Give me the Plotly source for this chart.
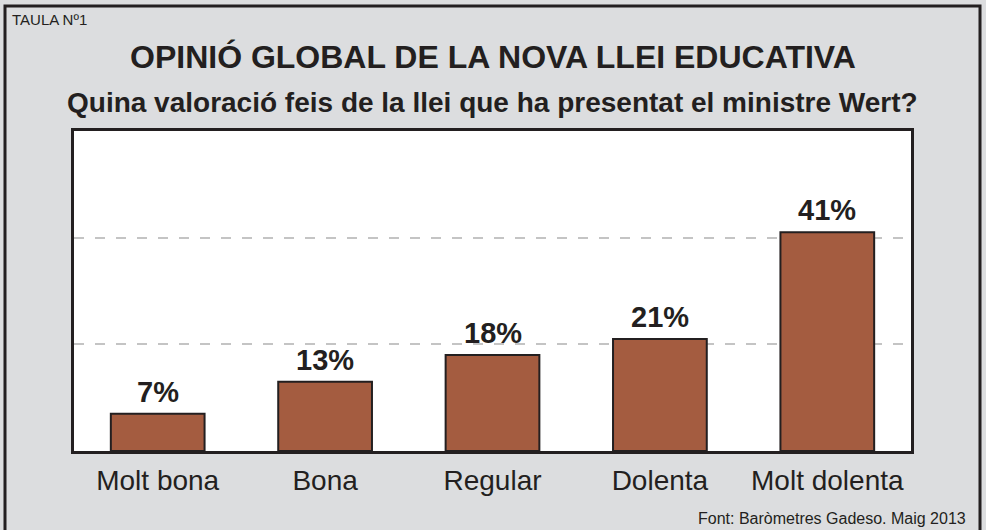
import plotly.graph_objects as go

categories = ["Molt bona", "Bona", "Regular", "Dolenta", "Molt dolenta"]
values = [7, 13, 18, 21, 41]
value_labels = ["7%", "13%", "18%", "21%", "41%"]

title = "OPINIÓ GLOBAL DE LA NOVA LLEI EDUCATIVA"
subtitle = "Quina valoració feis de la llei que ha presentat el ministre Wert?"
table_label = "TAULA Nº1"
source = "Font: Baròmetres Gadeso. Maig 2013"

FONT = "Liberation Sans, Arial, sans-serif"
DARK = "#231f20"
BG = "#dcdddf"
BAR = "#a45c40"

W, H = 986, 530
L, R, T, B = 74, 75, 131, 79
PW, PH = W - L - R, H - T - B


def px_x(x):
    return (x - L) / PW


def px_y(y):
    return (H - B - y) / PH


fig = go.Figure()
fig.add_trace(go.Bar(
    x=categories, y=values,
    marker=dict(color=BAR, line=dict(color=DARK, width=2)),
    width=0.56, hoverinfo="skip",
))

for c, v, t in zip(categories, values, value_labels):
    fig.add_annotation(x=c, y=v, text=f"<b>{t}</b>", showarrow=False,
                       yanchor="bottom", yshift=4,
                       font=dict(family=FONT, size=29, color=DARK))

fig.update_layout(
    width=W, height=H,
    margin=dict(l=L, r=R, t=T, b=B),
    paper_bgcolor=BG, plot_bgcolor="white",
    showlegend=False,
    font=dict(family=FONT, color=DARK),
    xaxis=dict(showline=True, mirror=True, linecolor=DARK, linewidth=3,
               tickfont=dict(size=28, color=DARK), ticks="", showgrid=False,
               ticklabelstandoff=2, fixedrange=True),
    yaxis=dict(range=[0, 60], tickvals=[20, 40], showticklabels=False,
               showline=True, mirror=True, linecolor=DARK, linewidth=3,
               showgrid=True, gridcolor="#c4c4c4", gridwidth=2,
               griddash="10px,11px", zeroline=False, ticks="", fixedrange=True),
)

fig.add_annotation(xref="paper", yref="paper", x=0.5, y=px_y(57),
                   text=f"<b>{title}</b>", showarrow=False, yanchor="middle",
                   font=dict(family=FONT, size=32, color=DARK))
fig.add_annotation(xref="paper", yref="paper", x=px_x(492), y=px_y(102),
                   text=f"<b>{subtitle}</b>", showarrow=False, yanchor="middle",
                   font=dict(family=FONT, size=28, color=DARK))
fig.add_annotation(xref="paper", yref="paper", x=px_x(10), y=px_y(20),
                   text=table_label, showarrow=False, xanchor="left", yanchor="middle",
                   font=dict(family=FONT, size=15, color=DARK))
fig.add_annotation(xref="paper", yref="paper", x=px_x(968), y=px_y(518),
                   text=source, showarrow=False, xanchor="right", yanchor="middle",
                   font=dict(family=FONT, size=16, color=DARK))

fig.add_shape(type="rect", xref="paper", yref="paper",
              x0=px_x(5), x1=px_x(980), y0=px_y(H + 6), y1=px_y(6),
              line=dict(color=DARK, width=3), fillcolor="rgba(0,0,0,0)", layer="below")

fig.write_html("out.html", config={"displayModeBar": False},
               post_script="document.body.style.margin='0';document.body.style.overflow='hidden';")
